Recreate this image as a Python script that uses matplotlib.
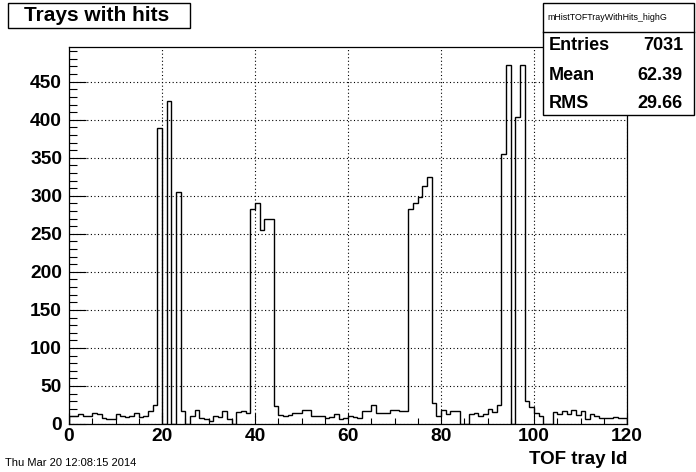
import matplotlib
matplotlib.use("Agg")
import matplotlib.pyplot as plt
from matplotlib.patches import Rectangle
import numpy as np

plt.rcParams['font.family'] = ['Liberation Sans', 'DejaVu Sans']

# histogram: 120 bins from 0 to 120 (TOF tray id)
x_lo, x_hi, n_bins = 0, 120, 120
counts = [
    10, 11, 13, 11, 10, 14, 13, 8, 7, 7, 13, 11, 9, 10, 14, 9, 11, 17, 25,      # 0-18
    389, 0, 424, 0, 305,                                                        # 19-23
    17, 0, 10, 18, 8, 6, 4, 11, 9, 17, 7, 0, 16, 17, 15,                        # 24-38
    282, 290, 255, 270, 269,                                                    # 39-43
    24, 12, 11, 12, 15, 15, 19, 19, 10, 10, 10, 8, 9, 13, 7, 8, 11, 9, 8,
    17, 17, 25, 15, 14, 15, 18, 18, 17, 17,                                     # 44-72
    282, 290, 298, 313, 325,                                                    # 73-77
    28, 10, 19, 13, 17, 17, 0, 0, 13, 15, 11, 13, 20, 16, 25,                   # 78-92
    355, 472, 0, 404, 472,                                                      # 93-97
    30, 23, 15, 11, 0, 0, 16, 13, 17, 13, 18, 12, 17, 6, 13, 10, 8, 8, 8, 9, 8, 8,  # 98-119
]
edges = np.linspace(x_lo, x_hi, n_bins + 1)

title = "Trays with hits"
x_title = "TOF tray Id"
hist_name = "mHistTOFTrayWithHits_highG"
stat_names = ["Entries", "Mean", "RMS"]
stat_values = ["7031", "62.39", "29.66"]
date_text = "Thu Mar 20 12:08:15 2014"

W, H = 696, 472
fig = plt.figure(figsize=(W / 100, H / 100), dpi=100)
ax = fig.add_axes([69 / W, 48 / H, 558 / W, 377 / H])

ax.stairs(counts, edges, color="black", linewidth=1.0, zorder=3)

ax.set_xlim(x_lo, x_hi)
ax.set_ylim(0, max(counts) * 1.05)
ax.set_xticks(np.arange(0, 121, 20))
ax.set_xticks(np.arange(0, 121, 5), minor=True)
ax.set_yticks(np.arange(0, 451, 50))
ax.set_yticks(np.arange(0, 491, 10), minor=True)

ax.grid(True, which="major", color="black", linestyle=(0, (1, 2.2)), linewidth=0.8)
ax.tick_params(axis="both", which="both", direction="in", top=False, right=False,
               width=0.8, labelsize=13.8)
ax.tick_params(axis="x", which="major", length=8.1, pad=3)
ax.tick_params(axis="x", which="minor", length=4.1)
ax.tick_params(axis="y", which="major", length=12, pad=5)
ax.tick_params(axis="y", which="minor", length=6)
for lab in ax.get_xticklabels() + ax.get_yticklabels():
    lab.set_fontweight("bold")
for sp in ax.spines.values():
    sp.set_linewidth(0.9)

# x axis title, right aligned at end of axis
fig.text(627 / W, 1 - 459 / H, x_title, ha="right", va="center",
         fontsize=13.5, fontweight="bold")

# title box
fig.add_artist(Rectangle((7.5 / W, 1 - 27.5 / H), (190 - 7.5) / W, 25 / H,
                         transform=fig.transFigure, facecolor="white",
                         edgecolor="black", linewidth=1.0, zorder=5))
fig.text(97 / W, 1 - 15.5 / H, title, ha="center", va="center",
         fontsize=15, fontweight="bold", zorder=6)

# stats box
bx0, bx1, by0, by1 = 542.5, 693.5, 115, 2.5
fig.add_artist(Rectangle((bx0 / W, 1 - by0 / H), (bx1 - bx0) / W, (by0 - by1) / H,
                         transform=fig.transFigure, facecolor="white",
                         edgecolor="black", linewidth=1.0, zorder=5))
fig.add_artist(plt.Line2D([bx0 / W, bx1 / W], [1 - 31.7 / H, 1 - 31.7 / H],
                          transform=fig.transFigure, color="black",
                          linewidth=1.0, zorder=6))
fig.text(547 / W, 1 - 17 / H, hist_name, ha="left", va="center",
         fontsize=6.4, zorder=7)
for i, (nm, val) in enumerate(zip(stat_names, stat_values)):
    yc = [45, 75, 103][i]
    fig.text(549 / W, 1 - yc / H, nm, ha="left", va="center",
             fontsize=13, fontweight="bold", zorder=7)
    fig.text(683 / W, 1 - yc / H, val, ha="right", va="center",
             fontsize=13, fontweight="bold", zorder=7)

fig.text(5 / W, 1 - 463 / H, date_text, ha="left", va="center", fontsize=8)

fig.savefig("out.png", dpi=100)
